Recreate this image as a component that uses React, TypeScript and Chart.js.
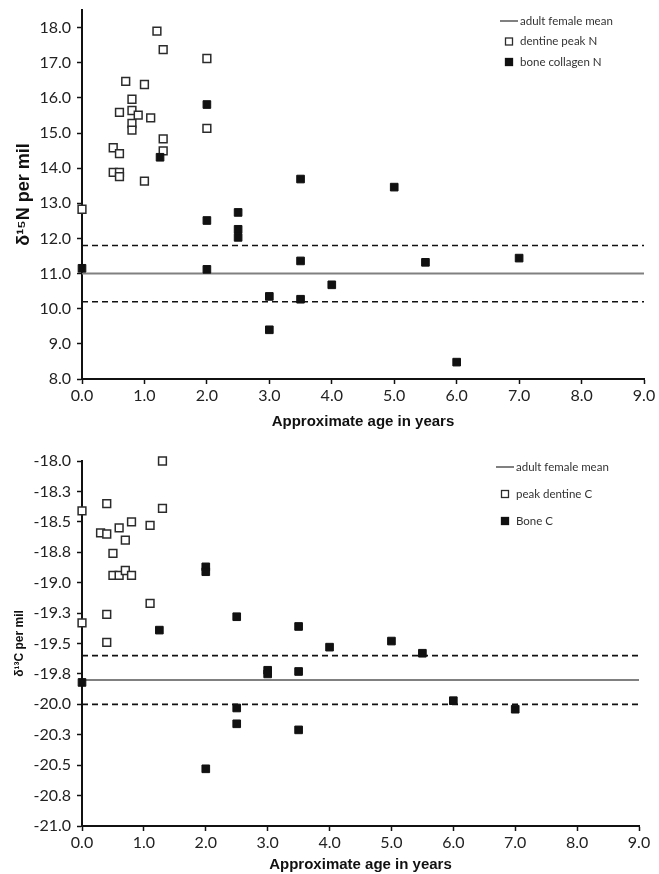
import React, { useEffect, useRef } from "react";
import { Chart, registerables } from "chart.js";

Chart.register(...registerables);

// ---------- shared ----------
const AGE_TICKS = [0, 1, 2, 3, 4, 5, 6, 7, 8, 9];
const AGE_RANGE = [0, 9];

// ---------- top chart: nitrogen ----------
const N_TICKS = [8, 9, 10, 11, 12, 13, 14, 15, 16, 17, 18];
const N_RANGE = [8, 18.5];
const N_MEAN = 11.0;
const N_UPPER = 11.8;
const N_LOWER = 10.2;

const dentineNAges = [0, 0.5, 0.6, 0.5, 0.6, 0.6, 0.6, 0.7, 0.8, 0.8, 0.8, 0.8, 0.9, 1.0, 1.0, 1.1, 1.2, 1.3, 1.3, 1.3, 2.0, 2.0];
const dentineNValues = [12.83, 14.58, 14.41, 13.88, 13.88, 13.76, 15.59, 16.47, 15.96, 15.64, 15.27, 15.08, 15.51, 16.38, 13.63, 15.43, 17.9, 17.37, 14.83, 14.49, 17.12, 15.13];

const boneNAges = [0, 1.25, 2.0, 2.0, 2.0, 2.5, 2.5, 2.5, 3.0, 3.0, 3.5, 3.5, 3.5, 4.0, 5.0, 5.5, 6.0, 7.0];
const boneNValues = [11.15, 14.31, 15.81, 12.51, 11.12, 12.74, 12.26, 12.03, 10.35, 9.4, 13.69, 11.36, 10.27, 10.68, 13.46, 11.32, 8.48, 11.44];

// ---------- bottom chart: carbon ----------
const C_TICKS = [-21, -20.75, -20.5, -20.25, -20, -19.75, -19.5, -19.25, -19, -18.75, -18.5, -18.25, -18];
const C_RANGE = [-21, -18];
const C_MEAN = -19.8;
const C_UPPER = -19.6;
const C_LOWER = -20.0;

const dentineCAges = [0, 0, 0.3, 0.4, 0.4, 0.4, 0.4, 0.5, 0.5, 0.6, 0.6, 0.7, 0.7, 0.8, 0.8, 1.1, 1.1, 1.3, 1.3];
const dentineCValues = [-18.41, -19.33, -18.59, -18.35, -18.6, -19.26, -19.49, -18.76, -18.94, -18.55, -18.94, -18.65, -18.9, -18.5, -18.94, -18.53, -19.17, -18.0, -18.39];

const boneCAges = [0, 1.25, 2.0, 2.0, 2.0, 2.5, 2.5, 2.5, 3.0, 3.0, 3.5, 3.5, 3.5, 4.0, 5.0, 5.5, 6.0, 7.0];
const boneCValues = [-19.82, -19.39, -18.87, -18.91, -20.53, -19.28, -20.03, -20.16, -19.72, -19.75, -19.36, -19.73, -20.21, -19.53, -19.48, -19.58, -19.97, -20.04];

// ---------- helpers ----------
const pts = (xs: number[], ys: number[]) => xs.map((x, i) => ({ x, y: ys[i] }));
const hline = (y: number) => [
  { x: AGE_RANGE[0], y },
  { x: AGE_RANGE[1], y },
];

const TICK_FONT = { family: "Lato, 'Open Sans', sans-serif", size: 16 };
const TEXT_COLOR = "#222";

const insetLegend = {
  id: "insetLegend",
  afterDraw(chart: any, _args: any, opts: any) {
    const ctx = chart.ctx;
    const { x, y, spacing, lineLength, gap, markerSize, font, color } = opts;
    let row = 0;
    chart.data.datasets.forEach((ds: any) => {
      if (!ds.label) return;
      const cy = y + row * spacing;
      ctx.save();
      if (ds.showLine) {
        ctx.strokeStyle = ds.borderColor;
        ctx.lineWidth = ds.borderWidth;
        ctx.setLineDash([]);
        ctx.beginPath();
        ctx.moveTo(x, cy);
        ctx.lineTo(x + lineLength, cy);
        ctx.stroke();
      } else {
        const mx = x + lineLength / 2;
        const s = markerSize;
        ctx.fillStyle = ds.pointBackgroundColor;
        ctx.fillRect(mx - s / 2, cy - s / 2, s, s);
        ctx.strokeStyle = ds.pointBorderColor;
        ctx.lineWidth = 1.3;
        ctx.strokeRect(mx - s / 2, cy - s / 2, s, s);
      }
      ctx.fillStyle = color;
      ctx.font = font;
      ctx.textAlign = "left";
      ctx.textBaseline = "middle";
      ctx.fillText(ds.label, x + lineLength + gap, cy);
      ctx.restore();
      row++;
    });
  },
};

type Cfg = {
  yRange: number[];
  yTicks: number[];
  yTitle: string;
  yTitleSize: number;
  yTitlePad: number;
  mean: number;
  upper: number;
  lower: number;
  dentine: { x: number; y: number }[];
  bone: { x: number; y: number }[];
  labels: string[];
  padTop: number;
  padRight: number;
  xAxisHeight: number;
  xTitlePad: number;
  legend: any;
};

function makeConfig(c: Cfg): any {
  return {
    type: "scatter",
    data: {
      datasets: [
        {
          label: c.labels[0],
          data: hline(c.mean),
          showLine: true,
          borderColor: "#808080",
          borderWidth: 2,
          pointRadius: 0,
          clip: false,
          order: 3,
        },
        {
          label: c.labels[1],
          data: c.dentine,
          pointStyle: "rect",
          pointRadius: 5.5,
          pointBorderWidth: 1.5,
          pointBackgroundColor: "#ffffff",
          pointBorderColor: "#2b2b2b",
          clip: false,
          order: 1,
        },
        {
          label: c.labels[2],
          data: c.bone,
          pointStyle: "rect",
          pointRadius: 5.4,
          pointBorderWidth: 1,
          pointBackgroundColor: "#111111",
          pointBorderColor: "#111111",
          clip: false,
          order: 0,
        },
        {
          label: "",
          data: hline(c.upper),
          showLine: true,
          borderColor: "#111111",
          borderWidth: 1.6,
          borderDash: [6, 4],
          pointRadius: 0,
          clip: false,
          order: 4,
        },
        {
          label: "",
          data: hline(c.lower),
          showLine: true,
          borderColor: "#111111",
          borderWidth: 1.6,
          borderDash: [6, 4],
          pointRadius: 0,
          clip: false,
          order: 4,
        },
      ],
    },
    options: {
      responsive: false,
      animation: false,
      events: [],
      devicePixelRatio: 1,
      layout: { padding: { top: c.padTop, right: c.padRight, bottom: 0, left: 0 } },
      plugins: {
        legend: { display: false },
        tooltip: { enabled: false },
        insetLegend: c.legend,
      },
      scales: {
        x: {
          type: "linear",
          min: AGE_RANGE[0],
          max: AGE_RANGE[1],
          afterBuildTicks: (s: any) => {
            s.ticks = AGE_TICKS.map((v) => ({ value: v }));
          },
          afterFit: (s: any) => {
            s.height = c.xAxisHeight;
            s.paddingLeft = 0;
            s.paddingRight = 0;
          },
          border: { display: true, color: "#111", width: 2 },
          grid: {
            drawOnChartArea: false,
            drawTicks: true,
            tickLength: 5,
            tickColor: "#111",
            tickWidth: 1.5,
          },
          ticks: {
            font: TICK_FONT,
            color: TEXT_COLOR,
            padding: 2,
            maxRotation: 0,
            callback: (v: number) => Number(v).toFixed(1),
          },
          title: {
            display: true,
            text: "Approximate age in years",
            color: "#111",
            font: { family: "'Liberation Sans', Arial, sans-serif", size: 15, weight: "bold" },
            padding: { top: 0, bottom: c.xTitlePad },
          },
        },
        y: {
          type: "linear",
          min: c.yRange[0],
          max: c.yRange[1],
          afterBuildTicks: (s: any) => {
            s.ticks = c.yTicks.map((v) => ({ value: v }));
          },
          afterFit: (s: any) => {
            s.width = 82;
            s.paddingTop = 0;
            s.paddingBottom = 0;
          },
          border: { display: true, color: "#111", width: 2 },
          grid: {
            drawOnChartArea: false,
            drawTicks: true,
            tickLength: 5,
            tickColor: "#111",
            tickWidth: 1.5,
          },
          ticks: {
            font: TICK_FONT,
            color: TEXT_COLOR,
            padding: 6,
            callback: (v: number) => Number(v).toFixed(1),
          },
          title: {
            display: true,
            text: c.yTitle,
            color: "#111",
            font: { family: "'Liberation Sans', Arial, sans-serif", size: c.yTitleSize, weight: "bold" },
            padding: { top: c.yTitlePad, bottom: 0 },
          },
        },
      },
    },
    plugins: [insetLegend],
  };
}

function ChartCanvas({ cfg, width, height }: { cfg: any; width: number; height: number }) {
  const ref = useRef<HTMLCanvasElement | null>(null);
  useEffect(() => {
    if (!ref.current) return;
    const chart = new Chart(ref.current, cfg);
    return () => chart.destroy();
  }, [cfg]);
  return <canvas ref={ref} width={width} height={height} style={{ display: "block", width, height }} />;
}

const LEGEND_FONT = "11.5px Lato, 'Open Sans', sans-serif";

const topCfg = makeConfig({
  yRange: N_RANGE,
  yTicks: N_TICKS,
  yTitle: "δ¹⁵N per mil",
  yTitleSize: 18,
  yTitlePad: 13,
  mean: N_MEAN,
  upper: N_UPPER,
  lower: N_LOWER,
  dentine: pts(dentineNAges, dentineNValues),
  bone: pts(boneNAges, boneNValues),
  labels: ["adult female mean", "dentine peak N", "bone collagen N"],
  padTop: 10,
  padRight: 15,
  xAxisHeight: 58,
  xTitlePad: 6,
  legend: { x: 500, y: 21, spacing: 20.5, lineLength: 18, gap: 2, markerSize: 7, font: LEGEND_FONT, color: "#333" },
});

const bottomCfg = makeConfig({
  yRange: C_RANGE,
  yTicks: C_TICKS,
  yTitle: "δ¹³C per mil",
  yTitleSize: 12,
  yTitlePad: 12,
  mean: C_MEAN,
  upper: C_UPPER,
  lower: C_LOWER,
  dentine: pts(dentineCAges, dentineCValues),
  bone: pts(boneCAges, boneCValues),
  labels: ["adult female mean", "peak dentine C", "Bone C"],
  padTop: 24,
  padRight: 20,
  xAxisHeight: 48,
  xTitlePad: 0,
  legend: { x: 496, y: 30, spacing: 27, lineLength: 18, gap: 2, markerSize: 7, font: LEGEND_FONT, color: "#333" },
});

export default function App() {
  return (
    <div style={{ position: "absolute", left: 0, top: 0, width: 659, height: 874, background: "#fff" }}>
      <ChartCanvas cfg={topCfg} width={659} height={437} />
      <ChartCanvas cfg={bottomCfg} width={659} height={437} />
    </div>
  );
}
